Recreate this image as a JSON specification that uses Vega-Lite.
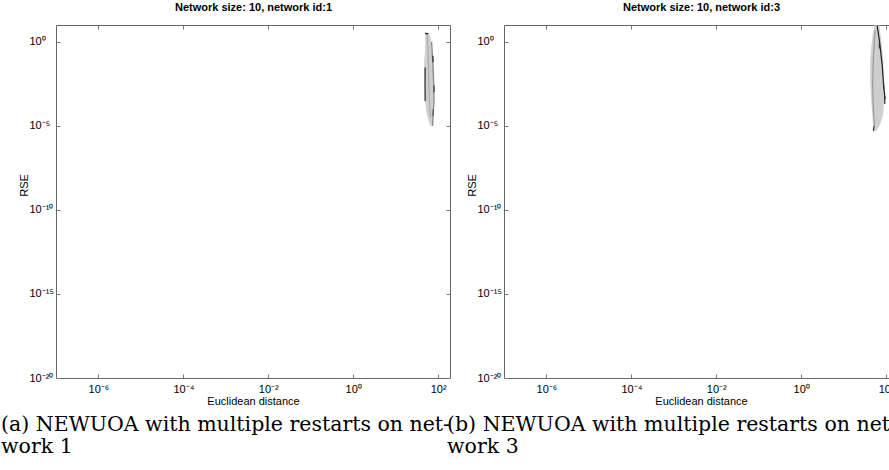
{
  "$schema": "https://vega.github.io/schema/vega-lite/v6.json",
  "padding": {"left": 0, "top": 1, "right": 0, "bottom": 0},
  "autosize": {"type": "pad"},
  "background": "#ffffff",
  "bounds": "flush",
  "spacing": 54,
  "datasets": {
    "blob1": [
      {"y": 3.44, "xlo": 49.4, "xhi": 61.4},
      {"y": 1.15, "xlo": 49.4, "xhi": 68.4},
      {"y": 0.291, "xlo": 49.4, "xhi": 72.3},
      {"y": 0.0741, "xlo": 46.9, "xhi": 76.2},
      {"y": 0.0186, "xlo": 46.9, "xhi": 80.5},
      {"y": 0.00479, "xlo": 49.4, "xhi": 80.5},
      {"y": 0.0012, "xlo": 49.4, "xhi": 80.5},
      {"y": 0.000309, "xlo": 49.4, "xhi": 80.5},
      {"y": 0.000078, "xlo": 52.2, "xhi": 76.2},
      {"y": 0.000026, "xlo": 58.2, "xhi": 76.2},
      {"y": 0.00001, "xlo": 64.9, "xhi": 76.2}
    ],
    "dark1": [
      {"s": "a", "o": 1, "x": 49.4, "y": 3.2},
      {"s": "a", "o": 2, "x": 58.0, "y": 3.0},
      {"s": "b", "o": 1, "x": 49.4, "y": 0.03},
      {"s": "b", "o": 2, "x": 49.0, "y": 0.003},
      {"s": "b", "o": 3, "x": 49.4, "y": 0.0003},
      {"s": "c", "o": 1, "x": 70, "y": 1.0},
      {"s": "c", "o": 2, "x": 74, "y": 0.1},
      {"s": "c", "o": 3, "x": 78, "y": 0.005},
      {"s": "c", "o": 4, "x": 80, "y": 0.0003},
      {"s": "c", "o": 5, "x": 76, "y": 0.00005},
      {"s": "c", "o": 6, "x": 74, "y": 0.00001},
      {"s": "d", "o": 1, "x": 55, "y": 2.5},
      {"s": "d", "o": 2, "x": 58, "y": 0.3},
      {"s": "d", "o": 3, "x": 60, "y": 0.01},
      {"s": "d", "o": 4, "x": 62, "y": 0.0005},
      {"s": "d", "o": 5, "x": 66, "y": 0.00003},
      {"s": "e", "o": 1, "x": 75, "y": 0.15},
      {"s": "e", "o": 2, "x": 76, "y": 0.06},
      {"s": "f", "o": 1, "x": 80, "y": 0.0025},
      {"s": "f", "o": 2, "x": 80, "y": 0.001},
      {"s": "g", "o": 1, "x": 77, "y": 0.0001},
      {"s": "g", "o": 2, "x": 76, "y": 0.00004}
    ],
    "blob2": [
      {"y": 9.5, "xlo": 52.2, "xhi": 68.4},
      {"y": 1.51, "xlo": 46.9, "xhi": 76.2},
      {"y": 0.0955, "xlo": 42.1, "xhi": 84.9},
      {"y": 0.00603, "xlo": 42.1, "xhi": 89.7},
      {"y": 0.000389, "xlo": 44.4, "xhi": 89.7},
      {"y": 0.000049, "xlo": 46.9, "xhi": 84.9},
      {"y": 0.0000123, "xlo": 49.4, "xhi": 72.3},
      {"y": 0.0000047, "xlo": 52.2, "xhi": 58.2}
    ],
    "dark2": [
      {"s": "a", "o": 1, "x": 61.4, "y": 9.5},
      {"s": "a", "o": 2, "x": 70, "y": 1.0},
      {"s": "a", "o": 3, "x": 80, "y": 0.05},
      {"s": "a", "o": 4, "x": 88, "y": 0.002},
      {"s": "a", "o": 5, "x": 94.6, "y": 0.00039},
      {"s": "b", "o": 1, "x": 68, "y": 0.8},
      {"s": "b", "o": 2, "x": 70, "y": 0.4},
      {"s": "c", "o": 1, "x": 86, "y": 0.004},
      {"s": "c", "o": 2, "x": 88, "y": 0.0015},
      {"s": "d", "o": 1, "x": 92, "y": 0.0006},
      {"s": "d", "o": 2, "x": 93, "y": 0.0002},
      {"s": "e", "o": 1, "x": 52, "y": 0.00001},
      {"s": "e", "o": 2, "x": 50, "y": 0.000005},
      {"s": "f", "o": 1, "x": 55, "y": 5},
      {"s": "f", "o": 2, "x": 50, "y": 0.1},
      {"s": "f", "o": 3, "x": 48, "y": 0.003},
      {"s": "f", "o": 4, "x": 50, "y": 0.0001},
      {"s": "f", "o": 5, "x": 53, "y": 0.00001}
    ]
  },
  "hconcat": [
    {
      "width": 394,
      "height": 353,
      "title": {"text": ["(a) NEWUOA with multiple restarts on net-", "work 1"], "orient": "bottom", "anchor": "start", "frame": "group", "dx": -55, "offset": 9},
      "layer": [
        {
          "data": {"name": "blob1"},
          "mark": {"type": "area", "orient": "horizontal", "color": "#cfcfcf"},
          "encoding": {
            "y": {"field": "y", "type": "quantitative", "scale": {"type": "log", "domain": [1e-20, 10], "nice": false},
                  "axis": {"orient": "left", "values": [1e-20, 1e-15, 1e-10, 1e-5, 1], "title": "RSE", "labelAlign": "left", "labelPadding": 31, "titleX": -27, "titleY": 160, "titleAlign": "center", "titleBaseline": "bottom"}},
            "x": {"field": "xlo", "type": "quantitative", "scale": {"type": "log", "domain": [1e-7, 190], "nice": false},
                  "axis": {"orient": "bottom", "values": [1e-6, 1e-4, 1e-2, 1, 100], "title": "Euclidean distance", "labelPadding": 9, "titlePadding": 1}},
            "x2": {"field": "xhi"}
          }
        },
        {
          "data": {"name": "dark1"},
          "mark": {"type": "line", "strokeWidth": 1.3},
          "encoding": {
            "x": {"field": "x", "type": "quantitative", "scale": {"type": "log", "domain": [1e-7, 190], "nice": false},
                  "axis": {"orient": "top", "values": [1e-6, 1e-4, 1e-2, 1, 100], "labels": false, "title": "Network size: 10, network id:1", "titleFontWeight": "bold", "titlePadding": 12}},
            "y": {"field": "y", "type": "quantitative", "scale": {"type": "log", "domain": [1e-20, 10], "nice": false},
                  "axis": {"orient": "right", "values": [1e-20, 1e-15, 1e-10, 1e-5, 1], "labels": false, "title": null}},
            "detail": {"field": "s", "type": "nominal"},
            "order": {"field": "o", "type": "quantitative"},
            "color": {"field": "s", "type": "nominal", "legend": null, "scale": {"domain": ["a", "b", "c", "d", "e", "f", "g"], "range": ["#111111", "#333333", "#8a8a8a", "#b0b0b0", "#333333", "#444444", "#555555"]}}
          }
        }
      ],
      "resolve": {"scale": {"x": "independent", "y": "independent", "color": "independent"}}
    },
    {
      "width": 394,
      "height": 353,
      "title": {"text": ["(b) NEWUOA with multiple restarts on net-", "work 3"], "orient": "bottom", "anchor": "start", "frame": "group", "dx": -57, "offset": 9},
      "layer": [
        {
          "data": {"name": "blob2"},
          "mark": {"type": "area", "orient": "horizontal", "color": "#cfcfcf"},
          "encoding": {
            "y": {"field": "y", "type": "quantitative", "scale": {"type": "log", "domain": [1e-20, 10], "nice": false},
                  "axis": {"orient": "left", "values": [1e-20, 1e-15, 1e-10, 1e-5, 1], "title": "RSE", "labelAlign": "left", "labelPadding": 31, "titleX": -27, "titleY": 160, "titleAlign": "center", "titleBaseline": "bottom"}},
            "x": {"field": "xlo", "type": "quantitative", "scale": {"type": "log", "domain": [1e-7, 190], "nice": false},
                  "axis": {"orient": "bottom", "values": [1e-6, 1e-4, 1e-2, 1, 100], "title": "Euclidean distance", "labelPadding": 9, "titlePadding": 1}},
            "x2": {"field": "xhi"}
          }
        },
        {
          "data": {"name": "dark2"},
          "mark": {"type": "line", "strokeWidth": 1.2},
          "encoding": {
            "x": {"field": "x", "type": "quantitative", "scale": {"type": "log", "domain": [1e-7, 190], "nice": false},
                  "axis": {"orient": "top", "values": [1e-6, 1e-4, 1e-2, 1, 100], "labels": false, "title": "Network size: 10, network id:3", "titleFontWeight": "bold", "titlePadding": 12}},
            "y": {"field": "y", "type": "quantitative", "scale": {"type": "log", "domain": [1e-20, 10], "nice": false},
                  "axis": {"orient": "right", "values": [1e-20, 1e-15, 1e-10, 1e-5, 1], "labels": false, "title": null}},
            "detail": {"field": "s", "type": "nominal"},
            "order": {"field": "o", "type": "quantitative"},
            "color": {"field": "s", "type": "nominal", "legend": null, "scale": {"domain": ["a", "b", "c", "d", "e", "f"], "range": ["#222222", "#333333", "#333333", "#333333", "#333333", "#9a9a9a"]}}
          }
        }
      ],
      "resolve": {"scale": {"x": "independent", "y": "independent", "color": "independent"}}
    }
  ],
  "config": {
    "view": {"stroke": "#666666", "strokeWidth": 1},
    "axis": {
      "grid": false,
      "domain": false,
      "ticks": true,
      "tickSize": -4,
      "tickColor": "#777777",
      "tickWidth": 1,
      "labelFont": "Liberation Sans",
      "labelFontSize": 11,
      "labelColor": "#000000",
      "labelBaseline": "middle",
      "labelExpr": "'10' + replace(replace(replace(replace(replace(replace(replace(replace(toString(round(log(datum.value) / LN10)), '-', '⁻'), '0', '⁰'), '1', '¹'), '2', '²'), '4', '⁴'), '5', '⁵'), '6', '⁶'), '8', '⁸')",
      "titleFont": "Liberation Sans",
      "titleFontSize": 11,
      "titleFontWeight": "normal",
      "titleColor": "#000000"
    },
    "axisBottom": {"labelBaseline": "top"},
    "title": {"font": "DejaVu Serif", "fontSize": 20.5, "fontWeight": "normal", "color": "#000000", "lineHeight": 22}
  }
}
